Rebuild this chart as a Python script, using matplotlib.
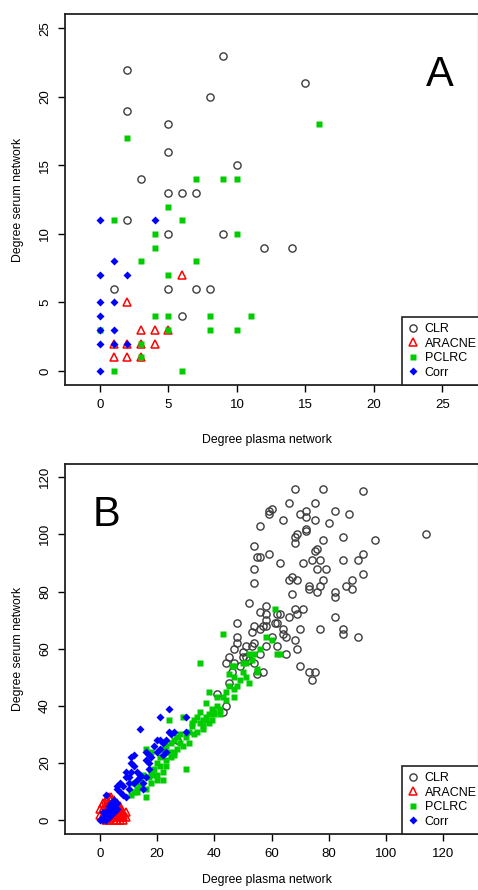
import matplotlib
matplotlib.use('Agg')
import matplotlib.pyplot as plt

plt.rcParams['font.family'] = ['Liberation Sans', 'DejaVu Sans']

# ---- panel A: degree plasma (x) vs degree serum (y) ----
a_clr_x = [2, 2, 5, 5, 3, 5, 6, 7, 9, 8, 10, 15, 2, 5, 9, 12, 14, 1, 5, 7, 8, 6]
a_clr_y = [22, 19, 18, 16, 14, 13, 13, 13, 23, 20, 15, 21, 11, 10, 10, 9, 9, 6, 6, 6, 6, 4]

a_aracne_x = [6, 2, 3, 4, 5, 1, 2, 3, 4, 1, 2, 3]
a_aracne_y = [7, 5, 3, 3, 3, 2, 2, 2, 2, 1, 1, 1]

a_pclrc_x = [2, 7, 9, 10, 16, 5, 1, 6, 4, 10, 4, 3, 7, 5, 4, 5, 8, 11, 0, 5, 8, 10, 3, 3, 1, 6]
a_pclrc_y = [17, 14, 14, 14, 18, 12, 11, 11, 10, 10, 9, 8, 8, 7, 4, 4, 4, 4, 3, 3, 3, 3, 2, 1, 0, 0]

a_corr_x = [0, 4, 1, 0, 2, 0, 1, 0, 0, 1, 0, 1, 2, 0]
a_corr_y = [11, 11, 8, 7, 7, 5, 5, 4, 3, 3, 2, 2, 2, 0]

# ---- panel B ----
b_clr_x = [68, 78, 92, 66, 75, 60, 59, 59, 70, 72, 72, 82, 87, 64, 75, 80, 56, 72, 72, 69,
           68, 68, 78, 85, 96, 114, 54, 76, 75, 55, 56, 59, 63, 71, 74, 77, 85, 90, 92, 54,
           76, 79, 54, 67, 66, 69, 78, 88, 77, 86, 88, 73, 73, 76, 92, 82, 82, 67, 52, 58,
           56, 58, 58, 58, 62, 63, 61, 62, 68, 71, 66, 69, 82, 48, 54, 53, 56, 64, 70, 77,
           85, 85, 90, 48, 48, 64, 65, 58, 62, 68, 69, 54, 50, 56, 65, 50, 54, 70, 73, 75,
           74, 57, 55, 47, 45, 57, 44, 51, 45, 44, 43, 27, 47, 53, 60, 46, 49, 51, 41, 52]
b_clr_y = [116, 116, 115, 111, 111, 109, 108, 107, 107, 108, 106, 108, 107, 105, 105, 104, 103, 102, 101, 100,
           99, 97, 98, 99, 98, 100, 96, 95, 94, 92, 92, 93, 90, 90, 91, 91, 91, 91, 93, 88,
           88, 88, 83, 85, 84, 84, 84, 84, 82, 82, 81, 82, 81, 80, 86, 80, 78, 79, 76, 75,
           73, 72, 70, 68, 72, 72, 69, 69, 74, 74, 71, 72, 71, 69, 68, 66, 67, 67, 67, 67,
           67, 65, 64, 64, 62, 65, 64, 61, 61, 63, 60, 62, 59, 58, 58, 57, 55, 54, 52, 52,
           49, 52, 51, 55, 57, 68, 55, 57, 48, 40, 38, 28, 60, 61, 64, 52, 54, 61, 44, 56]

b_aracne_x = [1, 2, 3, 4, 5, 6, 7, 8, 8, 7, 6, 5, 4, 3, 2, 1, 2, 3, 4, 5, 6, 7, 3, 4, 2,
              1, 0, 0, 5, 6, 7, 8, 3, 2, 1, 4, 6, 5, 7, 8, 3, 4, 6, 5, 7, 9, 9]
b_aracne_y = [1, 2, 1, 3, 2, 1, 2, 1, 3, 4, 5, 6, 7, 6, 5, 4, 3, 4, 5, 4, 3, 1, 8, 8, 7,
              6, 2, 4, 0, 0, 0, 0, 0, 0, 2, 1, 2, 3, 3, 2, 2, 4, 6, 7, 5, 1, 3]

b_pclrc_x = [61, 58, 62, 63, 52, 51, 55, 47, 43, 35, 46, 45, 38, 50, 55, 47, 49, 51, 52, 48,
             47, 43, 41, 44, 37, 42, 39, 35, 34, 37, 35, 38, 32, 32, 36, 37, 38, 39, 24, 47,
             42, 30, 29, 26, 28, 30, 25, 23, 22, 16, 18, 23, 23, 21, 18, 20, 22, 17, 18, 16,
             16, 14, 13, 12, 11, 28, 19, 25, 27, 33, 34, 31, 29, 36, 40, 41, 44, 50, 53, 54,
             56, 60, 12, 14, 15, 13, 19, 20, 21, 24, 26, 27, 31, 33, 36, 40, 45, 22, 20, 26]
b_pclrc_y = [74, 64, 58, 58, 58, 55, 52, 54, 65, 55, 54, 51, 45, 55, 53, 50, 49, 50, 48, 47,
             46, 43, 43, 42, 41, 39, 39, 38, 36, 35, 34, 34, 34, 33, 35, 36, 37, 35, 35, 43,
             37, 18, 36, 28, 30, 29, 27, 26, 25, 25, 24, 21, 19, 19, 17, 14, 14, 15, 13, 11,
             8, 12, 10, 10, 9, 27, 18, 22, 25, 30, 31, 27, 26, 33, 37, 40, 45, 52, 56, 58,
             60, 63, 13, 14, 16, 11, 16, 20, 22, 24, 24, 29, 31, 35, 32, 38, 47, 17, 16, 23]

b_corr_x = [24, 21, 14, 30, 30, 24, 25, 23, 22, 20, 22, 17, 17, 16, 17, 16, 14, 15, 12, 11,
            11, 12, 13, 15, 9, 9, 10, 7, 6, 6, 8, 9, 5, 2, 4, 5, 3, 1, 2, 3,
            1, 5, 6, 4, 0, 10, 11, 16, 20, 21, 23, 14, 12, 2, 3, 4, 2, 1, 3, 2,
            3, 4, 5, 6, 7, 8, 10, 13, 18, 19, 26, 21]
b_corr_y = [39, 36, 32, 36, 31, 31, 30, 28, 27, 24, 23, 23, 20, 21, 18, 15, 16, 13, 23, 22,
            20, 19, 17, 11, 17, 15, 13, 13, 12, 11, 9, 8, 7, 9, 6, 5, 4, 1, 1, 2,
            0, 3, 4, 2, 0, 15, 17, 24, 28, 25, 24, 15, 13, 3, 5, 4, 2, 3, 1, 0,
            3, 5, 6, 6, 10, 12, 11, 14, 22, 26, 31, 28]

method_names = ['CLR', 'ARACNE', 'PCLRC', 'Corr']

W, H = 478, 890
fig = plt.figure(figsize=(W / 100, H / 100), dpi=100)


def px_axes(left, top, right, bottom):
    return fig.add_axes([left / W, 1 - bottom / H, (right - left) / W, (bottom - top) / H])


def draw_panel(ax, clr, aracne, pclrc, corr):
    ax.plot(clr[0], clr[1], 'o', ms=5.2, mfc='none', mec='#3c3c3c', mew=1.0, ls='none')
    ax.plot(aracne[0], aracne[1], '^', ms=6, mfc='none', mec='#ff0000', mew=1.1, ls='none')
    ax.plot(pclrc[0], pclrc[1], 's', ms=4.5, mfc='#00cc00', mec='none', ls='none')
    ax.plot(corr[0], corr[1], 'D', ms=3.6, mfc='#0000ff', mec='none', ls='none')

    for side in ['left', 'bottom', 'top']:
        ax.spines[side].set_linewidth(1.3)
        ax.spines[side].set_color('#222222')
    ax.spines['right'].set_linewidth(1.0)
    ax.spines['right'].set_color('#bbbbbb')
    ax.tick_params(direction='out', length=5, width=1, labelsize=9.5, pad=5,
                   top=False, right=False)
    ax.tick_params(axis='y', labelrotation=90)
    for lab in ax.get_yticklabels():
        lab.set_va('center')
    ax.set_xlabel('Degree plasma network', fontsize=8.8)
    ax.set_ylabel('Degree serum network', fontsize=8.8)


def add_legend(ax, x_px, y_px):
    handles = [
        plt.Line2D([], [], marker='o', ms=5.2, mfc='none', mec='#3c3c3c', mew=1.0, ls='none'),
        plt.Line2D([], [], marker='^', ms=6, mfc='none', mec='#ff0000', mew=1.1, ls='none'),
        plt.Line2D([], [], marker='s', ms=4.5, mfc='#00cc00', mec='none', ls='none'),
        plt.Line2D([], [], marker='D', ms=3.6, mfc='#0000ff', mec='none', ls='none'),
    ]
    leg = ax.legend(handles, method_names, loc='lower left',
                    bbox_to_anchor=(x_px / W, 1 - y_px / H), bbox_transform=fig.transFigure,
                    borderaxespad=0, fancybox=False, framealpha=1, edgecolor='#222222',
                    fontsize=9, handlelength=0.8, handletextpad=0.5,
                    labelspacing=0.2, borderpad=0.5)
    leg.get_frame().set_linewidth(1.2)


# panel A
axA = px_axes(65, 14, 478, 385)
draw_panel(axA, (a_clr_x, a_clr_y), (a_aracne_x, a_aracne_y),
           (a_pclrc_x, a_pclrc_y), (a_corr_x, a_corr_y))
axA.set_xlim(-2.55, 27.6)
axA.set_ylim(-1.02, 26.05)
axA.set_xticks([0, 5, 10, 15, 20, 25])
axA.set_yticks([0, 5, 10, 15, 20, 25])
axA.xaxis.set_label_coords(0.49, -0.148)
axA.xaxis.label.set_va('center')
axA.yaxis.set_label_coords(-0.114, 0.5)
axA.yaxis.label.set_va('center')
add_legend(axA, 402, 385)
fig.text(440 / W, 1 - 75 / H, 'A', fontsize=30, ha='center', va='center')

# panel B
axB = px_axes(65, 464, 478, 834)
draw_panel(axB, (b_clr_x, b_clr_y), (b_aracne_x, b_aracne_y),
           (b_pclrc_x, b_pclrc_y), (b_corr_x, b_corr_y))
axB.set_xlim(-12.2, 132.1)
axB.set_ylim(-4.8, 124.6)
axB.set_xticks([0, 20, 40, 60, 80, 100, 120])
axB.set_yticks([0, 20, 40, 60, 80, 100, 120])
axB.xaxis.set_label_coords(0.49, -0.124)
axB.xaxis.label.set_va('center')
axB.yaxis.set_label_coords(-0.114, 0.5)
axB.yaxis.label.set_va('center')
add_legend(axB, 402, 834)
fig.text(106 / W, 1 - 515 / H, 'B', fontsize=30, ha='center', va='center')

fig.savefig('out.png', dpi=100)
